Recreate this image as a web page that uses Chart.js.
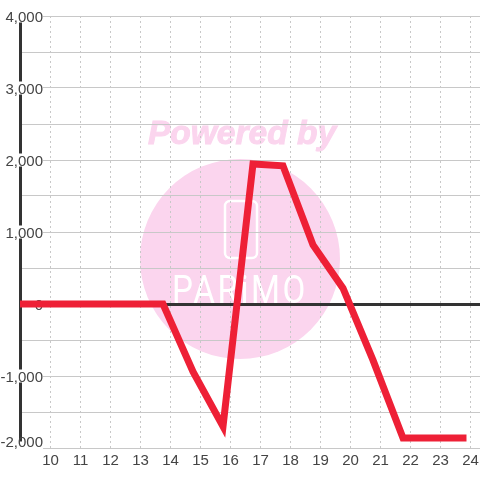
<!DOCTYPE html>
<html>
<head>
<meta charset="utf-8">
<script src="https://cdn.jsdelivr.net/npm/chart.js@4"></script>
<style>
  html, body { margin: 0; padding: 0; background: #fff; }
  #wrap { width: 480px; height: 480px; }
</style>
</head>
<body>
<div id="wrap"><canvas id="chart"></canvas></div>
<script>
const hours = [8.75, 9.75, 10.75, 11.75, 12.75, 13.75, 14.75, 15.75, 16.75, 17.75, 18.75, 19.75, 20.75, 21.75, 22.75, 23.75];
const values = [0, 0, 0, 0, 0, 0, -940, -1700, 1945, 1920, 820, 220, -780, -1860, -1860, -1860];
const hourTicks = [10, 11, 12, 13, 14, 15, 16, 17, 18, 19, 20, 21, 22, 23, 24];
const valueTicks = [4000, 3000, 2000, 1000, 0, -1000, -2000];
const labelFont = '"Liberation Sans"';
const labelColor = '#444';

// watermark sits under the grid
const watermark = {
  id: 'watermark',
  beforeDraw(chart) {
    const ctx = chart.ctx;
    ctx.save();
    ctx.fillStyle = '#fbd5ee';
    ctx.beginPath();
    ctx.arc(240, 259, 100, 0, Math.PI * 2);
    ctx.fill();
    ctx.font = 'italic bold 33.5px ' + labelFont;
    ctx.textAlign = 'center';
    ctx.textBaseline = 'middle';
    ctx.strokeStyle = '#fbd5ee';
    ctx.lineWidth = 1;
    ctx.fillText('Powered by', 242, 135);
    ctx.strokeText('Powered by', 242, 135);
    ctx.strokeStyle = '#fff';
    ctx.lineWidth = 2.5;
    ctx.beginPath();
    ctx.roundRect(225, 201, 32, 57, 5);
    ctx.stroke();
    ctx.fillStyle = '#fff';
    ctx.font = '39px Roboto';
    ctx.letterSpacing = '3px';
    ctx.textBaseline = 'alphabetic';
    ctx.fillText('PARiMO', 240, 303, 136);
    ctx.restore();
  },
  // y labels go here: the bottom one sits above its grid line, the rest just under
  beforeDatasetsDraw(chart) {
    const ctx = chart.ctx;
    const yScale = chart.scales.y;
    ctx.save();
    ctx.font = '15px ' + labelFont;
    ctx.fillStyle = labelColor;
    ctx.textAlign = 'right';
    ctx.textBaseline = 'middle';
    valueTicks.forEach(v => {
      const shift = v === -2000 ? -5 : 1.5;
      ctx.fillText(v.toLocaleString('en-US'), 43, yScale.getPixelForValue(v) + shift);
    });
    ctx.restore();
  }
};

// backdrop around the y labels: it breaks the axis line and the grid lines behind them
function backdropFor(c) {
  const v = c.tick ? c.tick.value : 0;
  if (v % 1000 !== 0) return 0;
  if (v === -2000) return { top: 5.5, bottom: 6, left: 3, right: 3 };
  return { top: -1.5, bottom: 1.5, left: 3, right: 3 };
}

new Chart(document.getElementById('chart'), {
  type: 'line',
  data: {
    datasets: [{
      data: hours.map((h, i) => ({ x: h, y: values[i] })),
      borderColor: '#ee2036',
      borderWidth: 7,
      borderCapStyle: 'square',
      borderJoinStyle: 'miter',
      pointRadius: 0,
      tension: 0
    }]
  },
  options: {
    responsive: true,
    maintainAspectRatio: false,
    animation: false,
    layout: { padding: { left: 20, right: 0, top: 16, bottom: 6 } },
    plugins: { legend: { display: false }, tooltip: { enabled: false } },
    scales: {
      x: {
        type: 'linear',
        min: 8.983,
        max: 24.317,
        afterBuildTicks: scale => { scale.ticks = hourTicks.map(v => ({ value: v })); },
        afterFit: scale => { scale.paddingRight = 0; },
        grid: { color: '#c8c8c8', lineWidth: 1, drawTicks: false },
        border: { display: false, dash: [2, 3] },
        ticks: {
          autoSkip: false,
          maxRotation: 0,
          padding: 4,
          color: labelColor,
          font: { family: labelFont, size: 15 },
          callback: v => String(v)
        }
      },
      y: {
        min: -2000,
        max: 4000,
        afterFit: scale => { scale.width = 0; },
        grid: {
          drawTicks: false,
          color: c => c.tick && c.tick.value === 0 ? '#333' : '#c8c8c8',
          lineWidth: c => c.tick && c.tick.value === 0 ? 3 : 1
        },
        border: { display: true, color: '#333', width: 3 },
        ticks: {
          stepSize: 500,
          autoSkip: false,
          mirror: true,
          crossAlign: 'far',
          padding: -19.5,
          color: 'transparent',
          font: { family: labelFont, size: 15, lineHeight: '13px' },
          showLabelBackdrop: true,
          backdropColor: '#fff',
          backdropPadding: backdropFor,
          callback: v => valueTicks.includes(v) ? v.toLocaleString('en-US') : ''
        }
      }
    }
  },
  plugins: [watermark]
});
</script>
</body>
</html>
